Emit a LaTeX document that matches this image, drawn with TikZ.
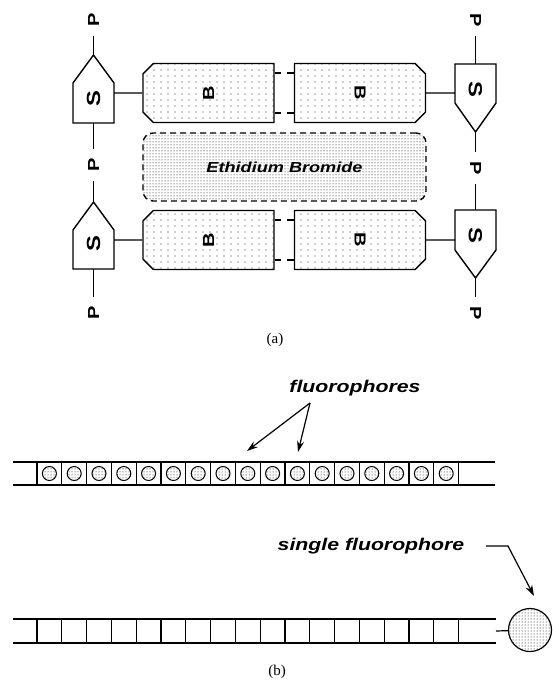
\documentclass[tikz,border=0pt]{standalone}
\usepackage{fontspec}
\setmainfont{Liberation Serif}
\newfontfamily\labelfont[FakeStretch=1.25]{Liberation Sans}
\usetikzlibrary{shapes.misc,arrows.meta,positioning,calc,patterns}

\pgfdeclarepatternformonly{sparse dots}{\pgfqpoint{-1pt}{-1pt}}{\pgfqpoint{1pt}{1pt}}{\pgfqpoint{7pt}{6pt}}%
  {\pgfpathcircle{\pgfqpoint{0pt}{0pt}}{0.6pt}\pgfusepath{fill}}

\begin{document}
\begin{tikzpicture}[x=1pt, y=-1pt, line width=1.2pt,
    sugar/.style={line width=1.4pt, fill=white, line join=miter},
    base/.style={chamfered rectangle, chamfered rectangle xsep=10pt, draw, line width=1.4pt,
      minimum width=131pt, minimum height=59pt, inner sep=0pt,
      pattern=sparse dots, pattern color=black!80},
    slab/.style={font={\labelfont\bfseries\fontsize{19pt}{19pt}\selectfont}},
    blab/.style={font={\labelfont\bfseries\fontsize{16pt}{16pt}\selectfont}},
    pnode/.style={circle, minimum size=30pt, inner sep=0pt,
      font={\labelfont\bfseries\fontsize{16pt}{16pt}\selectfont}},
    ann/.style={font={\labelfont\bfseries\itshape\fontsize{17pt}{17pt}\selectfont}},
    edge/.style={line width=1.1pt},
    fluor/.style={draw, circle, minimum size=14pt, inner sep=0pt, line width=1pt,
      pattern=dots, pattern color=black},
    arr/.style={-{Stealth[length=11pt, width=7pt]}, line width=1.2pt}]

    \useasboundingbox (0,0) rectangle (552,688);

    % (a) sugars
    \draw[sugar] (73,123) -- (73,83) -- (93.5,55) -- (114,83) -- (114,123) -- cycle;
    \draw[sugar] (73,269) -- (73,230) -- (93.5,202) -- (114,230) -- (114,269) -- cycle;
    \draw[sugar] (455,64) -- (455,103) -- (475.5,132) -- (496,103) -- (496,64) -- cycle;
    \draw[sugar] (455,210) -- (455,250) -- (475.5,278) -- (496,250) -- (496,210) -- cycle;
    \coordinate (s1tip) at (93.5,55);   \coordinate (s1bot) at (93.5,123);  \coordinate (s1e) at (114,93);
    \coordinate (s2tip) at (93.5,202);  \coordinate (s2bot) at (93.5,269);  \coordinate (s2e) at (114,240);
    \coordinate (s3top) at (475.5,64);  \coordinate (s3tip) at (475.5,132); \coordinate (s3w) at (455,93);
    \coordinate (s4top) at (475.5,210); \coordinate (s4tip) at (475.5,278); \coordinate (s4w) at (455,240);
    \node[slab] (s1) at (93.5,99)  {\rotatebox{90}{S}};
    \node[slab] (s2) at (93.5,244) {\rotatebox{90}{S}};
    \node[slab] (s3) at (475.5,89) {\rotatebox{-90}{S}};
    \node[slab] (s4) at (475.5,235) {\rotatebox{-90}{S}};

    % phosphates
    \node[pnode] (p1) at (93.5,20)  {\rotatebox{90}{P}};
    \node[pnode] (p2) at (93.5,165) {\rotatebox{90}{P}};
    \node[pnode] (p3) at (93.5,313) {\rotatebox{90}{P}};
    \node[pnode] (q1) at (475.5,20)  {\rotatebox{-90}{P}};
    \node[pnode] (q2) at (475.5,168) {\rotatebox{-90}{P}};
    \node[pnode] (q3) at (475.5,313) {\rotatebox{-90}{P}};
    \draw (p1) -- (s1tip);
    \draw (s1bot) -- (p2);
    \draw (p2) -- (s2tip);
    \draw (s2bot) -- (p3);
    \draw (q1) -- (s3top);
    \draw (s3tip) -- (q2);
    \draw (q2) -- (s4top);
    \draw (s4tip) -- (q3);

    % bases
    \node[base, blab, chamfered rectangle corners={north west,south west}] (b1) at (208.5,93) {\rotatebox{90}{B}};
    \node[base, blab, chamfered rectangle corners={north west,south west}] (b2) at (208.5,240) {\rotatebox{90}{B}};
    \node[base, blab, chamfered rectangle corners={north east,south east}] (b3) at (360,93) {\rotatebox{-90}{B}};
    \node[base, blab, chamfered rectangle corners={north east,south east}] (b4) at (360,240) {\rotatebox{-90}{B}};
    \draw (s1e) -- (b1);
    \draw (s2e) -- (b2);
    \draw (b3) -- (s3w);
    \draw (b4) -- (s4w);
    \foreach \b in {b1,b2} {
        \draw ([yshift=20pt]\b.east) -- ++(6,0);
        \draw ([yshift=-20pt]\b.east) -- ++(6,0);
    }
    \foreach \b in {b3,b4} {
        \draw ([yshift=20pt]\b.west) -- ++(-7,0);
        \draw ([yshift=-20pt]\b.west) -- ++(-7,0);
    }

    \node[draw, rectangle, rounded corners=10pt, line width=1.4pt, dash pattern=on 6pt off 4pt,
      minimum width=283pt, minimum height=68pt, pattern=dots, pattern color=black,
      font={\labelfont\bfseries\itshape\fontsize{14.5pt}{14.5pt}\selectfont}] (eb) at (284.5,167) {Ethidium Bromide};

    \node[font=\fontsize{15pt}{15pt}\selectfont] (capa) at (275,340) {(a)};

    % (b) strand with many fluorophores
    \coordinate (ul) at (13,473.5);
    \coordinate (ur) at (495,473.5);
    \draw ([yshift=11.5pt]ul) -- ([yshift=11.5pt]ur);
    \draw ([yshift=-11.5pt]ul) -- ([yshift=-11.5pt]ur);
    \foreach \i in {0,...,17} {
        \draw[edge] ({37+24.8*\i},462) -- ({37+24.8*\i},485);
    }
    \foreach \i in {1,...,17} {
        \node[fluor] (f\i) at ({37+24.8*(\i-0.5)},473.5) {};
    }
    \node[ann] (fl) at (355,388) {fluorophores};
    \coordinate (flapex) at (310,403);
    \coordinate (fla) at (247,451);
    \coordinate (flb) at (298,452);
    \draw[arr] (flapex) -- (fla);
    \draw[arr] (flapex) -- (flb);

    % strand with a single fluorophore
    \coordinate (ll) at (13,631);
    \coordinate (lr) at (496,631);
    \draw ([yshift=12pt]ll) -- ([yshift=12pt]lr);
    \draw ([yshift=-12pt]ll) -- ([yshift=-12pt]lr);
    \foreach \i in {0,...,17} {
        \draw[edge] ({37+24.8*\i},619) -- ({37+24.8*\i},643);
    }
    \node[draw, circle, minimum size=43pt, inner sep=0pt, line width=1.2pt,
      pattern=dots, pattern color=black] (glow) at (530,630) {};
    \draw (lr) -- (glow);
    \node[ann] (sf) at (371,546) {single fluorophore};
    \coordinate (sfbend) at (508,546);
    \coordinate (sftip) at (534,596);
    \draw[arr] ([xshift=18pt]sf.east) -- (sfbend) -- (sftip);

    \node[font=\fontsize{15pt}{15pt}\selectfont] (capb) at (277,672) {(b)};
\end{tikzpicture}
\end{document}
